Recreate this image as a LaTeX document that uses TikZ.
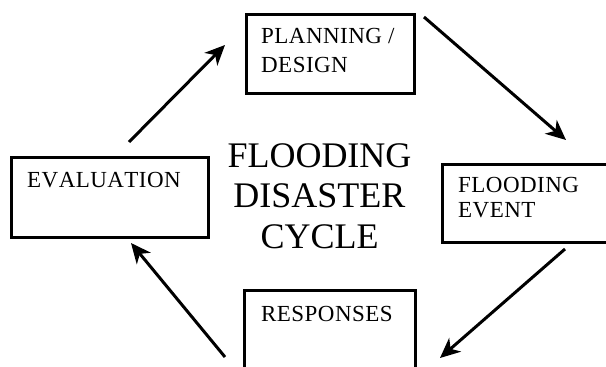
\documentclass[tikz,border=0pt]{standalone}
\usepackage{fontspec}
\setmainfont{Liberation Serif}
\usetikzlibrary{arrows.meta}
\begin{document}
\begin{tikzpicture}[x=1pt,y=-1pt,
  box/.style={draw=black,line width=3pt,rectangle,inner sep=0pt,anchor=north west},
  lbl/.style={anchor=base west,inner sep=0pt,font=\fontsize{23}{23}\selectfont\addfontfeature{Kerning=Off,LetterSpace=2}},
  title/.style={anchor=base,inner sep=0pt,font=\fontsize{36}{36}\selectfont},
  arr/.style={line width=3pt,-{Stealth[length=20pt,width=18pt,inset=6pt]}}]
\useasboundingbox (0,0) rectangle (606,367);
\fill[white] (0,0) rectangle (606,367);
% boxes
\node[box,minimum width=168pt,minimum height=79pt] (plan) at (245,12.5) {};
\node[box,minimum width=197pt,minimum height=80pt] (eval) at (10,156) {};
\node[box,minimum width=168pt,minimum height=78pt] (flood) at (441,163) {};
\node[box,minimum width=171pt,minimum height=95pt] (resp) at (243,289) {};
% labels
\node[lbl] (planA) at (261,43) {PLANNING /};
\node[lbl] (planB) at (261,72.5) {DESIGN};
\node[lbl] (evalA) at (27,187) {EVALUATION};
\node[lbl] (floodA) at (458,192) {FLOODING};
\node[lbl] (floodB) at (458,217) {EVENT};
\node[lbl] (respA) at (261,321) {RESPONSES};
% title
\node[title] (t1) at (319.5,167) {FLOODING};
\node[title] (t2) at (319.5,207.5) {DISASTER};
\node[title] (t3) at (319.5,248) {CYCLE};
% arrow end points
\coordinate (a1s) at (129,142);
\coordinate (a1e) at (225,45);
\coordinate (a2s) at (424,17);
\coordinate (a2e) at (566,140);
\coordinate (a3s) at (565,249);
\coordinate (a3e) at (440,358);
\coordinate (a4s) at (225,357);
\coordinate (a4e) at (131,243);
\draw[arr] (a1s) -- (a1e);
\draw[arr] (a2s) -- (a2e);
\draw[arr] (a3s) -- (a3e);
\draw[arr] (a4s) -- (a4e);
\end{tikzpicture}
\end{document}
